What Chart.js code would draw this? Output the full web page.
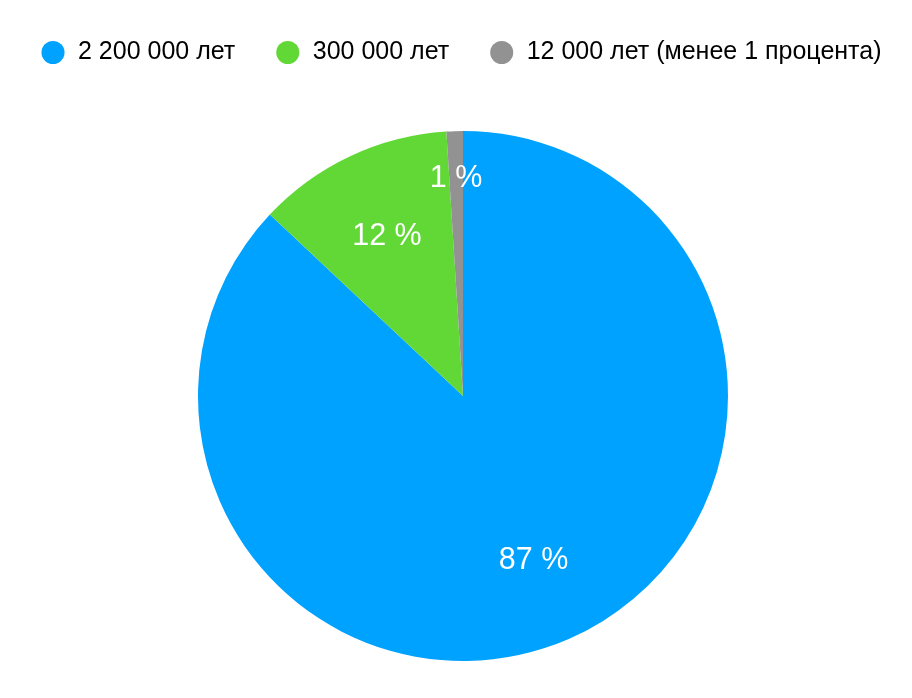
<!DOCTYPE html>
<html>
<head>
<meta charset="utf-8">
<script src="https://cdn.jsdelivr.net/npm/chart.js@4/dist/chart.umd.min.js"></script>
<style>
  html, body { margin: 0; padding: 0; background: #fff; }
  #wrap { width: 912px; height: 698px; }
</style>
</head>
<body>
<div id="wrap"><canvas id="pieChart"></canvas></div>
<script>
const categories = ["2 200 000 лет", "300 000 лет", "12 000 лет (менее 1 процента)"];
const shares = [87, 12, 1];
const colors = ["#00A2FF", "#61D836", "#929292"];

const FONT = "'Liberation Sans', Arial, Helvetica, sans-serif";

// keep the legend on one row, leave room under it, centre it like the original
const legendGap = {
  id: "legendGap",
  beforeInit(chart) {
    const fit = chart.legend.fit;
    chart.legend.fit = function () {
      const mw = this.maxWidth;
      this.maxWidth = mw + 100;
      fit.bind(chart.legend)();
      this.maxWidth = mw;
      this.width = mw;
      this.height += 56;
    };
  },
  afterLayout(chart) {
    chart.legend.left = -8;
    chart.legend.right = 930;
  }
};

// percent labels inside the slices
const sliceLabels = {
  id: "sliceLabels",
  afterDatasetsDraw(chart, args, opts) {
    const ctx = chart.ctx;
    const meta = chart.getDatasetMeta(0);
    ctx.save();
    ctx.fillStyle = "#fff";
    ctx.font = "30.5px " + FONT;
    ctx.textAlign = "center";
    ctx.textBaseline = "middle";
    meta.data.forEach((arc, i) => {
      const p = arc.getProps(["x", "y", "startAngle", "endAngle", "outerRadius"], true);
      const mid = (p.startAngle + p.endAngle) / 2;
      const d = p.outerRadius * opts.dist[i];
      ctx.fillText(shares[i] + " %", p.x + Math.cos(mid) * d, p.y + Math.sin(mid) * d + 2);
    });
    ctx.restore();
  }
};

new Chart("pieChart", {
  type: "pie",
  data: {
    labels: categories,
    datasets: [
      {
        data: shares,
        backgroundColor: colors,
        borderWidth: 0,
      },
    ],
  },
  options: {
    responsive: true,
    maintainAspectRatio: false,
    animation: false,
    layout: { padding: { left: 14, right: 0, top: 0, bottom: 37 } },
    plugins: {
      tooltip: { enabled: false },
      legend: {
        position: "top",
        labels: {
          usePointStyle: true,
          pointStyle: "circle",
          boxWidth: 25,
          boxHeight: 16.3,
          padding: 40,
          color: "#000",
          font: { size: 25, family: FONT },
        },
      },
      sliceLabels: { dist: [0.67, 0.674, 0.83] },
    },
  },
  plugins: [legendGap, sliceLabels],
});
</script>
</body>
</html>
